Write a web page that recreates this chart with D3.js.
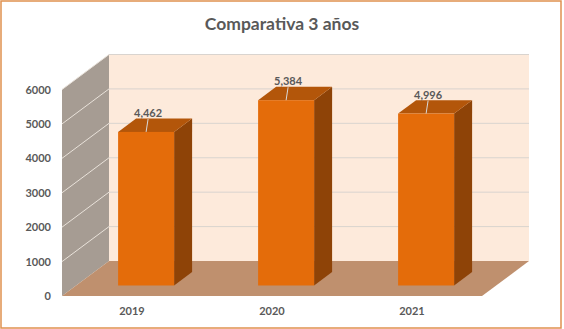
<!DOCTYPE html>
<html>
<head>
<meta charset="utf-8">
<script src="https://cdn.jsdelivr.net/npm/d3@7"></script>
<style>
  html, body { margin: 0; padding: 0; background: #fff; }
  svg { display: block; }
  text { font-family: Lato, "Open Sans", sans-serif; }
</style>
</head>
<body>
<svg id="chart" width="564" height="329"></svg>
<script>
// ---- data ----
const categories = ["2019", "2020", "2021"];
const values = [4462, 5384, 4996];
const dataLabels = ["4,462", "5,384", "4,996"];
const yTicks = [0, 1000, 2000, 3000, 4000, 5000, 6000];
const title = "Comparativa 3 años";

// ---- layout ----
const W = 564, H = 329;
const svg = d3.select("#chart");

const frontLeft = 62, frontRight = 482;
const depth = { dx: 47, dy: -35 };
const barFront = 0.30, barBack = 0.683;

const x = d3.scaleBand().domain(categories).range([frontLeft, frontRight])
  .paddingInner(0.6).paddingOuter(0.3);
const xCat = d3.scaleBand().domain(categories).range([frontLeft, frontRight]);
const y = d3.scaleLinear().domain([0, 6000]).range([296, 89.5]);

const off = f => [depth.dx * f, depth.dy * f];
const pts = arr => arr.map(p => p.join(",")).join(" ");

// outer border
svg.append("rect").attr("x", 1).attr("y", 1).attr("width", 560).attr("height", 327)
  .attr("fill", "#fff").attr("stroke", "#E0914F").attr("stroke-width", 1.5);

// title
svg.append("text").attr("x", 282).attr("y", 30).attr("text-anchor", "middle")
  .attr("font-size", 17.5).attr("font-weight", 700).attr("fill", "#595959")
  .text(title);

const [bdx, bdy] = off(1);
const y0 = y(0), yTop = y(6000);

// back wall
svg.append("polygon").attr("points", pts([
  [frontLeft + bdx, y0 + bdy], [frontRight + bdx, y0 + bdy],
  [frontRight + bdx, yTop + bdy], [frontLeft + bdx, yTop + bdy]
])).attr("fill", "#FDEADB");

// side wall
svg.append("polygon").attr("points", pts([
  [frontLeft, y0], [frontLeft + bdx, y0 + bdy],
  [frontLeft + bdx, yTop + bdy], [frontLeft, yTop]
])).attr("fill", "#A69C93");

// gridlines
svg.append("g").selectAll("line.back").data(yTicks.filter(d => d > 0)).join("line")
  .attr("x1", frontLeft + bdx).attr("x2", frontRight + bdx)
  .attr("y1", d => y(d) + bdy).attr("y2", d => y(d) + bdy)
  .attr("stroke", "#D9D4CF").attr("stroke-width", 1);
svg.append("g").selectAll("line.side").data(yTicks.filter(d => d > 0)).join("line")
  .attr("x1", frontLeft).attr("y1", d => y(d))
  .attr("x2", frontLeft + bdx).attr("y2", d => y(d) + bdy)
  .attr("stroke", "#E9E2DA").attr("stroke-width", 1);

// floor
svg.append("polygon").attr("points", pts([
  [frontLeft, y0], [frontRight, y0],
  [frontRight + bdx, y0 + bdy], [frontLeft + bdx, y0 + bdy]
])).attr("fill", "#BF906E");

// bars
const [fdx, fdy] = off(barFront);
const [kdx, kdy] = off(barBack);
const bars = svg.append("g").selectAll("g").data(categories.map((c, i) => ({ c, v: values[i], l: dataLabels[i] })))
  .join("g");

bars.append("polygon") // side
  .attr("points", d => {
    const xr = x(d.c) + x.bandwidth();
    return pts([[xr + fdx, y(d.v) + fdy], [xr + kdx, y(d.v) + kdy], [xr + kdx, y0 + kdy], [xr + fdx, y0 + fdy]]);
  }).attr("fill", "#8E4307");
bars.append("polygon") // top
  .attr("points", d => {
    const xl = x(d.c), xr = xl + x.bandwidth(), yt = y(d.v);
    return pts([[xl + fdx, yt + fdy], [xr + fdx, yt + fdy], [xr + kdx, yt + kdy], [xl + kdx, yt + kdy]]);
  }).attr("fill", "#B3560A");
bars.append("rect") // front
  .attr("x", d => x(d.c) + fdx).attr("y", d => y(d.v) + fdy)
  .attr("width", x.bandwidth()).attr("height", d => y0 - y(d.v))
  .attr("fill", "#E46C0A");

// leader lines and data labels
bars.append("line")
  .attr("x1", d => x(d.c) + fdx + x.bandwidth() / 2).attr("y1", d => y(d.v) + fdy)
  .attr("x2", d => x(d.c) + fdx + x.bandwidth() / 2 + 2).attr("y2", d => y(d.v) + fdy - 13)
  .attr("stroke", "#D9D9D9").attr("stroke-width", 1);
bars.append("text")
  .attr("x", d => x(d.c) + fdx + x.bandwidth() / 2 + 2)
  .attr("y", d => y(d.v) + fdy - 15)
  .attr("text-anchor", "middle").attr("font-size", 11).attr("font-weight", 700)
  .attr("fill", "#595959").text(d => d.l);

// y tick labels
svg.append("g").selectAll("text").data(yTicks).join("text")
  .attr("x", 51).attr("y", d => y(d) + 4)
  .attr("text-anchor", "end").attr("font-size", 11).attr("font-weight", 700)
  .attr("fill", "#595959").text(d => d);

// category labels
svg.append("g").selectAll("text").data(categories).join("text")
  .attr("x", d => xCat(d) + xCat.bandwidth() / 2).attr("y", 315)
  .attr("text-anchor", "middle").attr("font-size", 11).attr("font-weight", 700)
  .attr("fill", "#595959").text(d => d);
</script>
</body>
</html>
